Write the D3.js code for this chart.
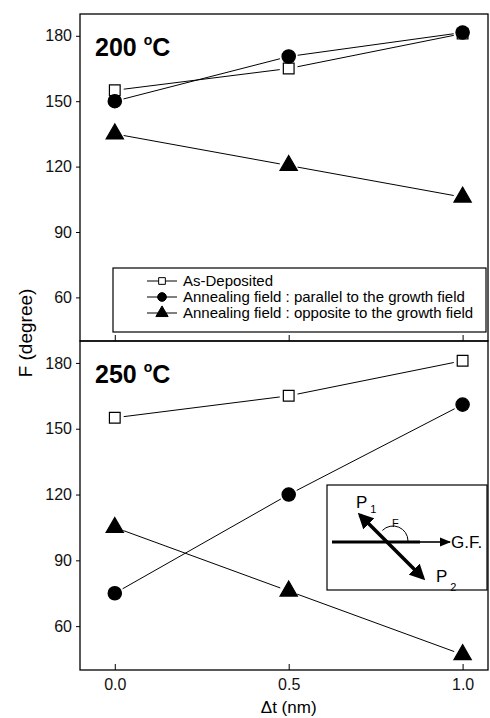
<!DOCTYPE html>
<html>
<head>
<meta charset="utf-8">
<script src="https://cdn.jsdelivr.net/npm/d3@7"></script>
<style>
  body { margin: 0; background: #fff; }
  svg { font-family: "Liberation Sans", Arial, sans-serif; }
</style>
</head>
<body>
<div id="chart"></div>
<script>
(function() {

  // values
  const dt = [0.0, 0.5, 1.0];
  const asDep200 = [155, 165, 181];
  const para200 = [150, 170.5, 181.5];
  const oppo200 = [135, 120.5, 106];
  const asDep250 = [155, 165, 181];
  const para250 = [75, 120, 161];
  const oppo250 = [105, 76, 47];
  const yTicks = [60, 90, 120, 150, 180];
  const xTicks = [0.0, 0.5, 1.0];
  const legendLabels = [
    'As-Deposited',
    'Annealing field : parallel to the growth field',
    'Annealing field : opposite to the growth field'
  ];

  const size = { x: 490, y: 718 };
  const plot = { left: 80, right: 488 };
  const panels = [
    { top: 14, bottom: 341, label: '200', series: [asDep200, para200, oppo200] },
    { top: 341, bottom: 670, label: '250', series: [asDep250, para250, oppo250] }
  ];

  let svg = d3.select('#chart')
    .append('svg')
    .attr('width', size.x)
    .attr('height', size.y);

  const xScale = d3.scaleLinear()
    .domain([-0.1, 1.073])
    .range([plot.left, plot.right]);

  const shapes = [
    { type: d3.symbolSquare, size: 115, fill: '#fff', lsize: 45 },
    { type: d3.symbolCircle, size: 140, fill: '#000', lsize: 60 },
    { type: d3.symbolTriangle, size: 130, fill: '#000', lsize: 65 }
  ];

  panels.forEach((p, pi) => {
    const yScale = d3.scaleLinear()
      .domain([40, 190])
      .range([p.bottom, p.top]);

    let g = svg.append('g');

    g.append('rect')
      .attr('x', plot.left)
      .attr('y', p.top)
      .attr('width', plot.right - plot.left)
      .attr('height', p.bottom - p.top)
      .attr('fill', 'none')
      .attr('stroke', '#000')
      .attr('stroke-width', 1.3);

    let yAxis = g.append('g')
      .attr('transform', `translate(${plot.left},0)`)
      .call(d3.axisLeft(yScale).tickValues(yTicks).tickSize(4).tickSizeOuter(0).tickPadding(4));
    yAxis.select('.domain').remove();
    yAxis.selectAll('text').attr('font-size', 16).attr('fill', '#111');

    let xAxis = g.append('g')
      .attr('transform', `translate(0,${p.bottom})`)
      .call(d3.axisBottom(xScale).tickValues(xTicks).tickSize(-6).tickSizeOuter(0)
        .tickPadding(9).tickFormat(d3.format('.1f')));
    xAxis.select('.domain').remove();
    xAxis.selectAll('text').attr('font-size', 16).attr('fill', '#111');
    if (pi === 0) xAxis.selectAll('text').remove();

    // series lines, broken a little before each marker
    p.series.forEach((vals, si) => {
      const pts = vals.map((v, i) => [xScale(dt[i]), yScale(v)]);
      for (let i = 0; i < pts.length - 1; i++) {
        const a = pts[i], b = pts[i + 1];
        const len = Math.hypot(b[0] - a[0], b[1] - a[1]);
        const ux = (b[0] - a[0]) / len, uy = (b[1] - a[1]) / len;
        const gap = 9;
        g.append('line')
          .attr('x1', a[0] + ux * gap).attr('y1', a[1] + uy * gap)
          .attr('x2', b[0] - ux * gap).attr('y2', b[1] - uy * gap)
          .attr('stroke', '#000')
          .attr('stroke-width', 1);
      }
    });

    p.series.forEach((vals, si) => {
      g.selectAll('.m' + si)
        .data(vals)
        .enter()
        .append('path')
          .attr('class', 'm' + si)
          .attr('transform', (d, i) => `translate(${xScale(dt[i])},${yScale(d)})`)
          .attr('d', d3.symbol().type(shapes[si].type).size(shapes[si].size))
          .attr('fill', shapes[si].fill)
          .attr('stroke', '#000')
          .attr('stroke-width', 1.2);
    });

    let title = g.append('text')
      .attr('x', 95)
      .attr('y', p.top + 42)
      .attr('font-size', 25)
      .attr('font-weight', 'bold')
      .attr('fill', '#000');
    title.append('tspan').text(p.label + ' ');
    title.append('tspan').attr('font-size', 14).attr('dy', -11).text('o');
    title.append('tspan').attr('dy', 11).text('C');
  });

  // legend
  let legend = svg.append('g');
  legend.append('rect')
    .attr('x', 113).attr('y', 268)
    .attr('width', 373).attr('height', 64)
    .attr('fill', '#fff')
    .attr('stroke', '#000')
    .attr('stroke-width', 1.2);
  legendLabels.forEach((lab, i) => {
    const y = 281 + i * 16;
    legend.append('line')
      .attr('x1', 147).attr('x2', 177)
      .attr('y1', y).attr('y2', y)
      .attr('stroke', '#000');
    legend.append('path')
      .attr('transform', `translate(162,${y})`)
      .attr('d', d3.symbol().type(shapes[i].type).size(shapes[i].lsize))
      .attr('fill', shapes[i].fill)
      .attr('stroke', '#000');
    legend.append('text')
      .attr('x', 183).attr('y', y + 5)
      .attr('font-size', 15)
      .attr('fill', '#000')
      .text(lab);
  });

  // axis titles
  svg.append('text')
    .attr('transform', 'translate(32,333) rotate(-90)')
    .attr('text-anchor', 'middle')
    .attr('font-size', 19)
    .attr('fill', '#000')
    .text('F (degree)');

  svg.append('text')
    .attr('x', xScale(0.5))
    .attr('y', 713)
    .attr('text-anchor', 'middle')
    .attr('font-size', 17)
    .attr('fill', '#000')
    .text('\u0394t (nm)');

  // inset sketch
  let inset = svg.append('g');
  let defs = svg.append('defs');
  defs.append('marker')
    .attr('id', 'head')
    .attr('viewBox', '0 0 10 10')
    .attr('refX', 8).attr('refY', 5)
    .attr('markerWidth', 4.5).attr('markerHeight', 4.5)
    .attr('orient', 'auto-start-reverse')
    .append('path')
      .attr('d', 'M0,0 L10,5 L0,10 Z')
      .attr('fill', '#000');
  defs.append('marker')
    .attr('id', 'headThin')
    .attr('viewBox', '0 0 10 10')
    .attr('refX', 9).attr('refY', 5)
    .attr('markerWidth', 7).attr('markerHeight', 7)
    .attr('orient', 'auto')
    .append('path')
      .attr('d', 'M0,1 L10,5 L0,9 Z')
      .attr('fill', '#000');

  inset.append('rect')
    .attr('x', 327).attr('y', 485)
    .attr('width', 160).attr('height', 105)
    .attr('fill', '#fff')
    .attr('stroke', '#000')
    .attr('stroke-width', 1.2);
  inset.append('line')
    .attr('x1', 332).attr('y1', 542).attr('x2', 420).attr('y2', 542)
    .attr('stroke', '#000').attr('stroke-width', 3);
  inset.append('line')
    .attr('x1', 418).attr('y1', 542).attr('x2', 450).attr('y2', 542)
    .attr('stroke', '#000').attr('stroke-width', 1.6)
    .attr('marker-end', 'url(#headThin)');
  inset.append('line')
    .attr('x1', 360).attr('y1', 515).attr('x2', 423).attr('y2', 578)
    .attr('stroke', '#000').attr('stroke-width', 3.5)
    .attr('marker-start', 'url(#head)')
    .attr('marker-end', 'url(#head)');
  let arcPath = d3.path();
  arcPath.arc(393, 541, 15, -Math.PI * 0.75, 0);
  inset.append('path')
    .attr('d', arcPath.toString())
    .attr('fill', 'none')
    .attr('stroke', '#000')
    .attr('stroke-width', 1);
  inset.append('text')
    .attr('x', 392).attr('y', 527)
    .attr('font-size', 11).attr('fill', '#000')
    .text('F');
  inset.append('text')
    .attr('x', 451).attr('y', 548)
    .attr('font-size', 17).attr('fill', '#000')
    .text('G.F.');
  let p1 = inset.append('text').attr('x', 356).attr('y', 508).attr('font-size', 17).attr('fill', '#000');
  p1.append('tspan').text('P');
  p1.append('tspan').attr('font-size', 11).attr('dy', 5).attr('dx', 3).text('1');
  let p2 = inset.append('text').attr('x', 436).attr('y', 582).attr('font-size', 17).attr('fill', '#000');
  p2.append('tspan').text('P');
  p2.append('tspan').attr('font-size', 11).attr('dy', 9).attr('dx', 3).text('2');
}());
</script>
</body>
</html>
